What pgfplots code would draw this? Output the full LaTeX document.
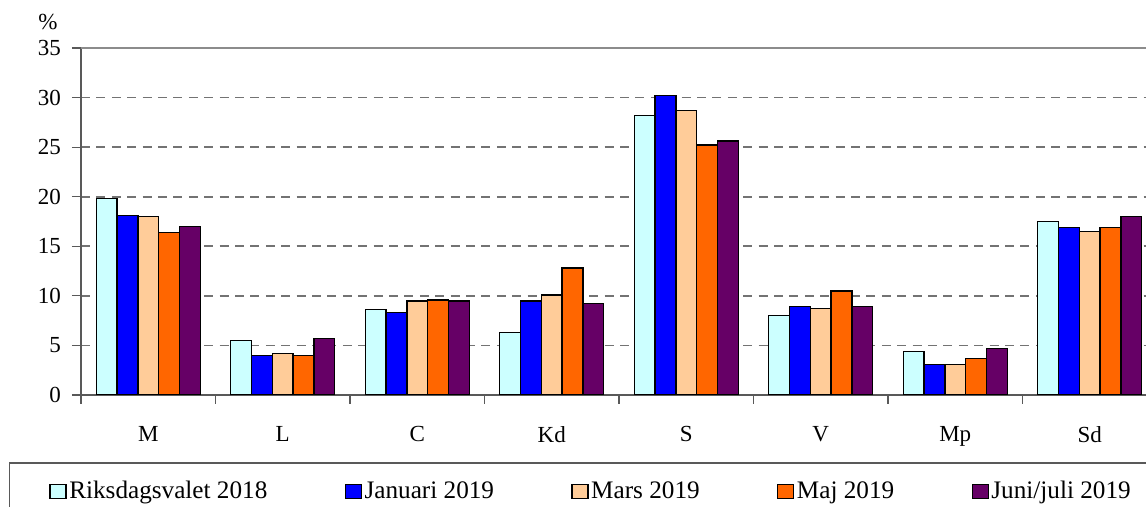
\documentclass[border=0pt]{standalone}
\usepackage{pgfplots}
\pgfplotsset{compat=1.18}
\usepackage{fontspec}
\setmainfont{Liberation Serif}
\definecolor{cRiks}{HTML}{CCFFFF}
\definecolor{cJan}{HTML}{0000FF}
\definecolor{cMars}{HTML}{FFCC99}
\definecolor{cMaj}{HTML}{FF6600}
\definecolor{cJuni}{HTML}{660066}
\pgfplotsset{
  sqlegend/.style={legend image code/.code={\draw[##1, line width=0.7pt] (0pt,-3.3pt) rectangle (8pt,3.7pt);}},
}
\begin{document}
\begin{tikzpicture}
\useasboundingbox (-40.5pt,-56pt) rectangle (532.5pt,197.5pt);
\clip (-40.5pt,-56pt) rectangle (532.5pt,197.5pt);
\begin{axis}[
  at={(0pt,0pt)}, anchor=south west,
  scale only axis, width=538pt, height=173.5pt,
  xmin=-0.5, xmax=7.5, ymin=0, ymax=35,
  ybar=0pt, bar width=0.1546,
  sqlegend,
  axis lines*=left,
  axis line style={black!65, line width=0.7pt},
  xtick={-0.5,0.5,...,7.5},
  x tick label as interval,
  xticklabels={M,L,C,Kd,S,V,Mp,Sd},
  ytick={0,5,...,35},
  tick align=outside, major tick length=4.5pt,
  tick style={black!65, line width=0.6pt},
  ymajorgrids,
  grid style={dash pattern=on 4.5pt off 3.2pt, black!55, line width=0.9pt},
  /pgf/number format/assume math mode=true,
  tick label style={font=\fontsize{11.5}{13}\selectfont},
  xticklabel style={yshift=-7.5pt},
  yticklabel style={xshift=-2pt},
  legend columns=5,
  legend style={at={(rel axis cs:0,0)}, anchor=north west, xshift=-16pt, yshift=-42pt,
    draw=none, fill=none, inner sep=0pt,
    font=\fontsize{12.6}{14}\selectfont,
    nodes={inner xsep=1.25pt, inner ysep=1pt},
    /tikz/every even column/.append style={column sep=37.4pt}},
]
\addplot[fill=cRiks, draw=black, line width=0.7pt, sqlegend] coordinates {(0,19.8) (1,5.5) (2,8.6) (3,6.3) (4,28.2) (5,8.0) (6,4.4) (7,17.5)};
\addplot[fill=cJan, draw=black, line width=0.7pt, sqlegend] coordinates {(0,18.1) (1,4.0) (2,8.3) (3,9.5) (4,30.2) (5,8.9) (6,3.1) (7,16.9)};
\addplot[fill=cMars, draw=black, line width=0.7pt, sqlegend] coordinates {(0,18.0) (1,4.2) (2,9.5) (3,10.1) (4,28.7) (5,8.7) (6,3.1) (7,16.5)};
\addplot[fill=cMaj, draw=black, line width=0.7pt, sqlegend] coordinates {(0,16.4) (1,4.0) (2,9.6) (3,12.8) (4,25.2) (5,10.5) (6,3.7) (7,16.9)};
\addplot[fill=cJuni, draw=black, line width=0.7pt, sqlegend] coordinates {(0,17.0) (1,5.7) (2,9.5) (3,9.2) (4,25.6) (5,8.9) (6,4.7) (7,18.0)};
\legend{Riksdagsvalet 2018, Januari 2019, Mars 2019, Maj 2019, Juni/juli 2019}
\draw[black!45, line width=0.9pt] (rel axis cs:0,1) -- (rel axis cs:1,1);
\end{axis}
\draw[black!65, line width=0.7pt] (-35.8pt,-80pt) -- (-35.8pt,-34pt) -- (600pt,-34pt);
\node[font=\fontsize{11.5}{13}\selectfont, anchor=base] at (-16.5pt,182.5pt) {\%};
\end{tikzpicture}
\end{document}
